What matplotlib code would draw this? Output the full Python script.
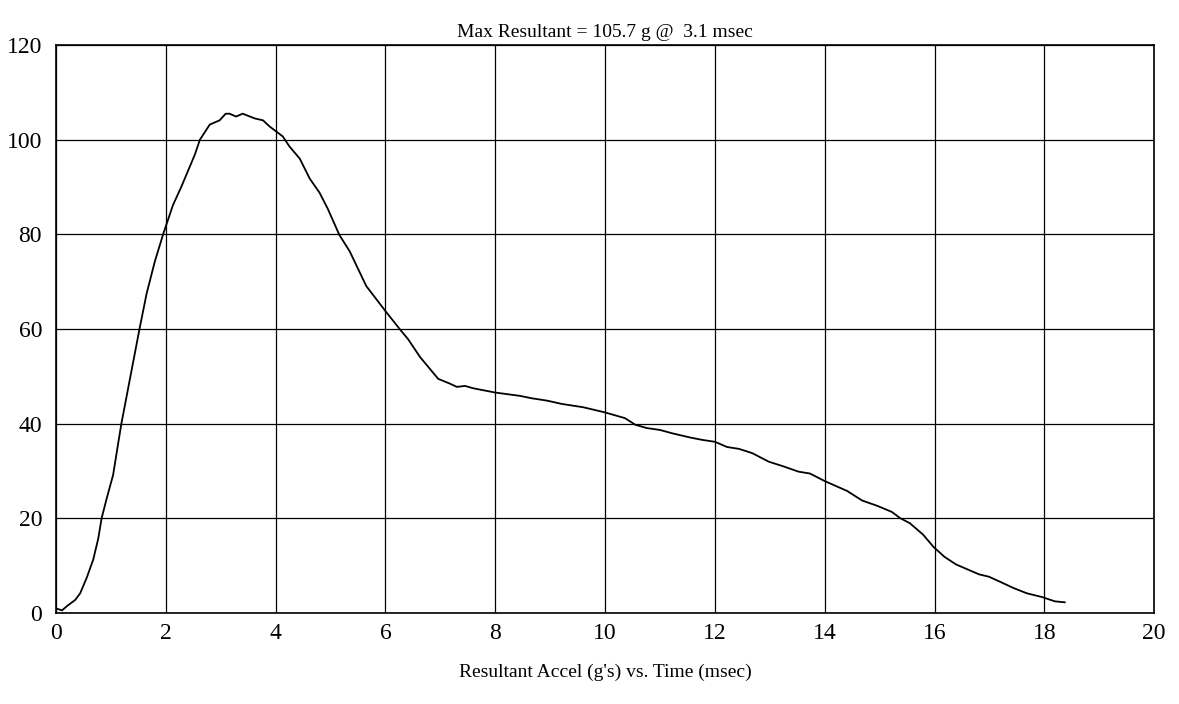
import numpy as np
import matplotlib.pyplot as plt

# resultant acceleration trace
time_ms = [0.0, 0.11, 0.2, 0.35, 0.44, 0.56, 0.68, 0.77, 0.83, 0.92, 1.04, 1.13,
           1.19, 1.35, 1.52, 1.65, 1.8, 1.95, 2.13, 2.28, 2.53, 2.62, 2.8, 2.98,
           3.09, 3.16, 3.28, 3.4, 3.62, 3.77, 3.89, 4.13, 4.25, 4.44, 4.62, 4.8,
           4.95, 5.16, 5.35, 5.65, 6.0, 6.26, 6.41, 6.63, 6.96, 7.17, 7.3, 7.45,
           7.6, 8.0, 8.45, 8.66, 8.94, 9.21, 9.6, 10.0, 10.36, 10.55, 10.76, 11.0,
           11.22, 11.55, 11.77, 12.0, 12.22, 12.44, 12.68, 12.98, 13.25, 13.52,
           13.73, 14.0, 14.41, 14.68, 14.95, 15.22, 15.37, 15.55, 15.79, 15.98,
           16.18, 16.39, 16.57, 16.81, 16.99, 17.2, 17.44, 17.68, 17.96, 18.19,
           18.37]
accel_g = [1.0, 0.6, 1.5, 2.8, 4.2, 7.5, 11.4, 15.8, 20.0, 24.1, 29.2, 35.7,
           40.0, 49.7, 60.0, 67.5, 74.3, 80.0, 86.2, 90.0, 96.9, 100.0, 103.2, 104.1,
           105.5, 105.5, 104.9, 105.5, 104.5, 104.1, 102.8, 100.7, 98.6, 96.0, 91.8, 88.8,
           85.4, 79.9, 76.4, 69.1, 63.8, 60.0, 57.9, 54.1, 49.5, 48.5, 47.8, 48.0,
           47.5, 46.6, 45.9, 45.4, 44.9, 44.2, 43.5, 42.4, 41.2, 39.8, 39.1, 38.7,
           38.0, 37.1, 36.6, 36.2, 35.1, 34.7, 33.8, 32.0, 31.0, 29.9,
           29.5, 27.9, 25.8, 23.8, 22.7, 21.4, 20.1, 19.0, 16.6, 14.0,
           11.9, 10.3, 9.4, 8.2, 7.7, 6.6, 5.3, 4.2, 3.4, 2.5,
           2.3]

x_ticks = np.arange(0, 21, 2)
y_ticks = np.arange(0, 121, 20)

plt.rcParams['font.family'] = ['Liberation Serif', 'DejaVu Serif']

fig = plt.figure(figsize=(11.79, 7.04), dpi=100)
ax = fig.add_axes([0.0475, 0.129, 0.9315, 0.807])

ax.plot(time_ms, accel_g, color='black', lw=1.3)

ax.set_xlim(0, 20)
ax.set_ylim(0, 120)
ax.set_xticks(x_ticks)
ax.set_yticks(y_ticks)
ax.tick_params(length=0, labelsize=17)
ax.tick_params(axis='y', pad=10)
ax.tick_params(axis='x', pad=7)
ax.grid(True, color='black', lw=0.9)
for s in ax.spines.values():
    s.set_color('black')
    s.set_linewidth(1.2)

ax.set_title("Max Resultant = 105.7 g @  3.1 msec", fontsize=14, pad=6)
ax.set_xlabel("Resultant Accel (g's) vs. Time (msec)", fontsize=14, labelpad=14)

fig.savefig('out.png', dpi=100)
